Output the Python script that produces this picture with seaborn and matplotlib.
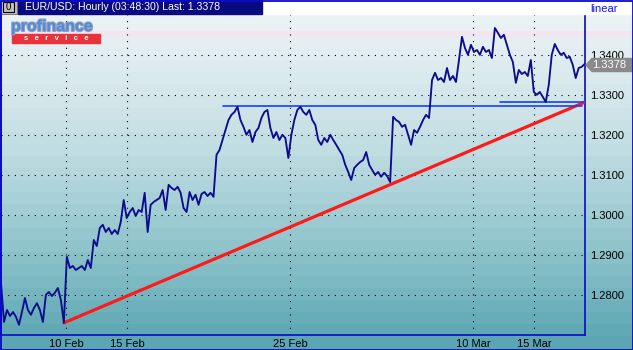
import numpy as np
import pandas as pd
import matplotlib
matplotlib.use("Agg")
import matplotlib.pyplot as plt
import seaborn as sns
from matplotlib.patches import Rectangle, Polygon
import matplotlib.patheffects as pe

# ---------------- data ----------------
# EUR/USD, sampled along the hourly chart (trading time, weekends removed)
prices = [
    1.2831, 1.2733, 1.2763, 1.2748, 1.2758, 1.2746, 1.2726, 1.2758, 1.2793, 1.2763,
    1.2751, 1.2768, 1.2780, 1.2763, 1.2733, 1.2801, 1.2808, 1.2798, 1.2806, 1.2818,
    1.2788, 1.2731, 1.2896, 1.2868, 1.2873, 1.2863, 1.2868, 1.2873, 1.2863, 1.2888,
    1.2868, 1.2938, 1.2923, 1.2968, 1.2976, 1.2958, 1.2968, 1.2953, 1.2963, 1.2953,
    1.2983, 1.3038, 1.2993, 1.3008, 1.3018, 1.2998, 1.3013, 1.3008, 1.3056, 1.2958,
    1.3026, 1.3033, 1.3038, 1.3043, 1.3063, 1.3013, 1.3076, 1.3068, 1.3063, 1.3071,
    1.3056, 1.3018, 1.3008, 1.3058, 1.3038, 1.3051, 1.3026, 1.3053, 1.3058, 1.3048,
    1.3056, 1.3046, 1.3151, 1.3163, 1.3188, 1.3213, 1.3238, 1.3251, 1.3258, 1.3271,
    1.3238, 1.3221, 1.3201, 1.3213, 1.3183, 1.3208, 1.3218, 1.3243, 1.3258, 1.3263,
    1.3218, 1.3193, 1.3208, 1.3188, 1.3201, 1.3193, 1.3143, 1.3201, 1.3238, 1.3263,
    1.3271, 1.3258, 1.3251, 1.3263, 1.3238, 1.3226, 1.3188, 1.3176, 1.3193, 1.3183,
    1.3201, 1.3188, 1.3176, 1.3163, 1.3151, 1.3126, 1.3108, 1.3088, 1.3118, 1.3126,
    1.3133, 1.3138, 1.3158, 1.3126, 1.3113, 1.3101, 1.3108, 1.3096, 1.3106, 1.3098,
    1.3083, 1.3246, 1.3238, 1.3233, 1.3221, 1.3226, 1.3201, 1.3176, 1.3213, 1.3206,
    1.3221, 1.3238, 1.3251, 1.3243, 1.3338, 1.3356, 1.3338, 1.3343, 1.3333, 1.3368,
    1.3338, 1.3348, 1.3333, 1.3388, 1.3446, 1.3418, 1.3401, 1.3426, 1.3408, 1.3413,
    1.3401, 1.3421, 1.3408, 1.3413, 1.3393, 1.3468, 1.3456, 1.3443, 1.3451, 1.3426,
    1.3401, 1.3383, 1.3331, 1.3363, 1.3353, 1.3358, 1.3348, 1.3388, 1.3308, 1.3301,
    1.3308, 1.3296, 1.3283, 1.3326, 1.3401, 1.3428, 1.3413, 1.3401, 1.3406, 1.3393,
    1.3396, 1.3376, 1.3343, 1.3368, 1.3371, 1.3378,
]
first_day = -3.19          # trading days relative to 10 Feb of the first sample
sample_step = 0.147        # trading days between samples

tick_labels = ["10 Feb", "15 Feb", "25 Feb", "10 Mar", "15 Mar"]
tick_days = [0, 3, 11, 20, 23]
price_ticks = [1.2800, 1.2900, 1.3000, 1.3100, 1.3200, 1.3300, 1.3400]

trend_days = [-0.1, 25.5]
trend_prices = [1.2731, 1.3283]
support_long_days = [7.7, 25.34]
support_long_price = 1.3273
support_short_days = [21.3, 25.44]
support_short_price = 1.3283

last_price = 1.3378
title_text = "EUR/USD: Hourly (03:48:30) Last: 1.3378"

# ---------------- figure ----------------
W, H = 633, 350
sns.set_style("white")
plt.rcParams["font.family"] = ["Liberation Sans", "DejaVu Sans"]

fig = plt.figure(figsize=(W / 100, H / 100), dpi=100)

# background gradient (banded), figure wide
bg = fig.add_axes([0, 0, 1, 1], zorder=-5)
stops_y = [0, 40, 100, 150, 200, 250, 300, 335, 350]
stops_c = ["#eef5f6", "#e6f0f2", "#d3e6ea", "#c0dde2", "#a8d0d7",
           "#8ec3cb", "#72b4be", "#5ea8b4", "#58a5b1"]
rgb = np.array([matplotlib.colors.to_rgb(c) for c in stops_c])
rows = np.arange(H)
band = (rows // 12) * 12 + 6
img = np.stack([np.interp(band, stops_y, rgb[:, k]) for k in range(3)], axis=-1)
pink = (rows >= 31) & (rows <= 36)
img[pink] = matplotlib.colors.to_rgb("#f4e6f0")
img = np.repeat(img[:, None, :], 2, axis=1)
bg.imshow(img, aspect="auto", extent=[0, W, H, 0], interpolation="nearest")
bg.set_xlim(0, W)
bg.set_ylim(H, 0)
bg.axis("off")

# main plot area
ax = fig.add_axes([1 / W, 15 / H, 584 / W, 321 / H], zorder=1)
ax.set_facecolor("none")

days = [first_day + i * sample_step for i in range(len(prices))]
df = pd.DataFrame({"day": days, "price": prices})

grid_kw = dict(color="black", lw=0.8, ls=(0, (1, 5)), zorder=1)
for p in price_ticks:
    ax.axhline(p, **grid_kw)
for d in tick_days:
    ax.axvline(d, **grid_kw)

sns.lineplot(x=trend_days, y=trend_prices, ax=ax, color="#ff1a1a", lw=2.3, zorder=3)
sns.lineplot(x=support_long_days, y=[support_long_price] * 2, ax=ax,
             color="#1440ff", lw=1.2, zorder=3)
sns.lineplot(x=support_short_days, y=[support_short_price] * 2, ax=ax,
             color="#1440ff", lw=1.2, zorder=3)
sns.lineplot(data=df, x="day", y="price", ax=ax, color="#0c0c8e", lw=1.35,
             zorder=4, sort=False)

ax.set_xlim(-3.19, 25.49)
ax.set_ylim(1.27005, 1.3503)
ax.set_xlabel("")
ax.set_ylabel("")
ax.set_xticks(tick_days)
ax.set_xticklabels(tick_labels)
ax.set_yticks(price_ticks)
ax.set_yticklabels([f"{p:.4f}" for p in price_ticks])
ax.yaxis.tick_right()
ax.tick_params(axis="both", length=0, labelsize=8, colors="black")
ax.tick_params(axis="y", pad=4)
ax.tick_params(axis="x", pad=3)
for s in ax.spines.values():
    s.set_color("#0a0ac8")
    s.set_linewidth(1.2)
    s.set_visible(True)
ax.grid(False)

# overlay in pixel coords
ov = fig.add_axes([0, 0, 1, 1], zorder=6)
ov.set_xlim(0, W)
ov.set_ylim(H, 0)
ov.axis("off")
ov.patch.set_alpha(0)

# header
ov.add_patch(Rectangle((0, 0), W, 14, color="white", zorder=1))
ov.add_patch(Rectangle((0, 0), 17, 14, facecolor="#c0c0c0", edgecolor="#808080", lw=0.8, zorder=2))
ov.add_patch(Rectangle((3, 2), 11, 10, facecolor="#c0c0c0", edgecolor="black", lw=0.8, zorder=3))
ov.text(8.5, 7.3, "0", fontsize=7, ha="center", va="center", color="black", zorder=4)
ov.add_patch(Rectangle((18, 0), 244, 14, color="#0a0a80", zorder=2))
ov.text(25, 7.5, title_text, fontsize=7.6, color="white", ha="left", va="center", zorder=3)
ov.text(590, 8.5, "linear", fontsize=8, color="#1010ff", ha="left", va="center", zorder=3)

# logo
ov.text(11, 26.5, "profinance", fontsize=11.5, fontweight="bold", color="#4d8ae6",
        ha="left", va="center", zorder=3,
        path_effects=[pe.withStroke(linewidth=1.5, foreground="#9aa4b4")])
ov.add_patch(Rectangle((12, 34), 88, 9, color="#e8333a", zorder=2))
ov.text(56, 38.8, "s   e   r   v   i   c   e", fontsize=5.5, fontweight="bold", color="white",
        ha="center", va="center", zorder=3)

# last price flag
y_last = 15 + (1.3503 - last_price) / (1.3503 - 1.27005) * 321
ov.add_patch(Polygon([[586, y_last], [592, y_last - 6.5], [633, y_last - 6.5],
                      [633, y_last + 6.5], [592, y_last + 6.5]],
                     closed=True, color="#8a8a8a", zorder=2))
ov.text(592, y_last + 0.3, f"{last_price:.4f}", fontsize=8, color="white",
        ha="left", va="center", zorder=3)

# outer border
ov.add_patch(Rectangle((0.5, 0.5), W - 1, H - 1, fill=False, edgecolor="#0a0ac8", lw=1.3, zorder=5))

fig.savefig("out.png", dpi=100)
